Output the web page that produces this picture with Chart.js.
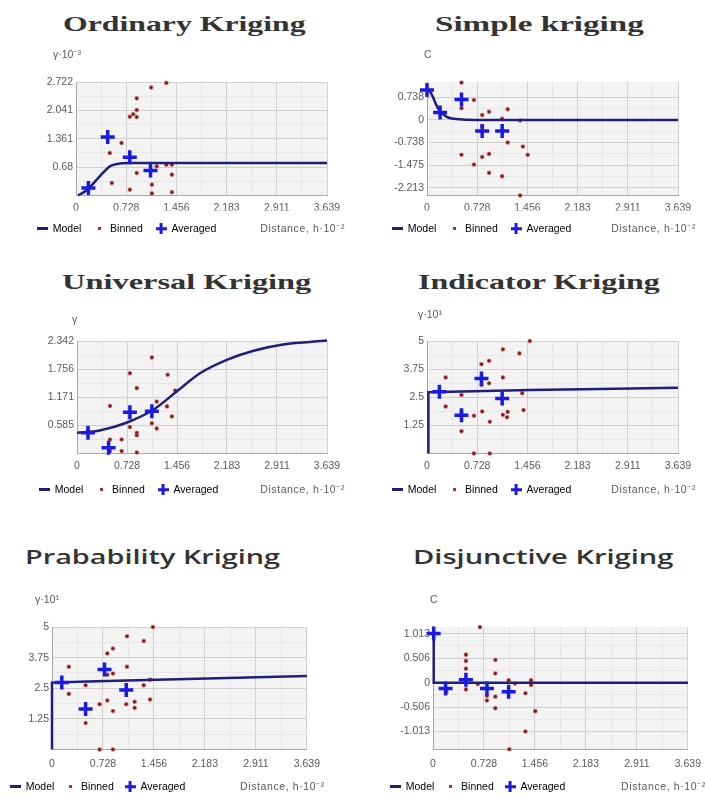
<!DOCTYPE html>
<html>
<head>
<meta charset="utf-8">
<script src="https://cdn.jsdelivr.net/npm/chart.js@4.4.1/dist/chart.umd.min.js"></script>
<style>
  body { margin: 0; background: #fff; width: 705px; height: 796px; position: relative; overflow: hidden; }
  .ttl { position: absolute; white-space: nowrap; color: #333; transform-origin: left top; }
  .serif { font-family: "Liberation Serif", "DejaVu Serif", serif; font-weight: bold; font-size: 21px; }
  .sans { font-family: "Open Sans", "Noto Sans", sans-serif; font-weight: 600; font-size: 20px; }
  .box { position: absolute; }
</style>
</head>
<body>
<script>
// shared x axis (distance, h * 10^-2)
const xTicks = [0, 0.728, 1.456, 2.183, 2.911, 3.639];
const xLabels = ["0", "0.728", "1.456", "2.183", "2.911", "3.639"];

// Ordinary Kriging
const okYTicks = [0, 0.68, 1.361, 2.041, 2.722];
const okYLabels = ["", "0.68", "1.361", "2.041", "2.722"];
const okModelX = [0.03, 0.15, 0.30, 0.40, 0.49, 0.64, 0.80, 3.639];
const okModelY = [0, 0.12, 0.38, 0.56, 0.70, 0.77, 0.78, 0.78];
const okBinnedX = [1.09, 1.31, 0.88, 0.78, 0.83, 0.88, 0.88, 0.66, 0.49, 0.88, 0.52, 0.78, 1.10, 1.10, 1.39, 1.39, 1.31, 1.39, 1.17];
const okBinnedY = [2.59, 2.70, 2.33, 1.89, 1.95, 2.05, 1.88, 1.26, 1.02, 0.54, 0.30, 0.14, 0.26, 0.05, 0.50, 0.08, 0.74, 0.74, 0.70];
const okAvgX = [0.18, 0.46, 0.78, 1.08];
const okAvgY = [0.18, 1.40, 0.92, 0.60];

// Simple kriging
const skYTicks = [-2.213, -1.475, -0.738, 0, 0.738];
const skYLabels = ["-2.213", "-1.475", "-0.738", "0", "0.738"];
const skModelX = [0, 0.06, 0.16, 0.28, 0.47, 0.70, 3.639];
const skModelY = [1.03, 0.87, 0.38, 0.11, 0.02, 0, 0];
const skBinnedX = [0.50, 0.68, 0.50, 0.80, 0.90, 1.17, 1.09, 1.35, 0.80, 1.17, 1.39, 1.46, 0.50, 0.68, 0.80, 0.90, 0.90, 1.09, 1.35];
const skBinnedY = [1.22, 0.65, 0.38, 0.16, 0.27, 0.35, 0.04, -0.02, -0.22, -0.74, -0.87, -1.14, -1.14, -1.46, -1.21, -1.11, -1.73, -1.84, -2.47];
const skAvgX = [0, 0.19, 0.50, 0.80, 1.09];
const skAvgY = [0.98, 0.24, 0.67, -0.36, -0.36];

// Universal Kriging
const ukYTicks = [0, 0.585, 1.171, 1.756, 2.342];
const ukYLabels = ["", "0.585", "1.171", "1.756", "2.342"];
const ukModelX = [0, 0.33, 0.72, 1.11, 1.45, 1.79, 2.18, 2.57, 3.0, 3.639];
const ukModelY = [0.43, 0.48, 0.64, 0.91, 1.29, 1.67, 1.95, 2.14, 2.27, 2.35];
const ukBinnedX = [1.09, 0.77, 1.32, 0.87, 1.43, 0.48, 1.16, 1.31, 1.38, 0.77, 1.09, 1.16, 0.87, 0.87, 0.16, 0.48, 0.65, 0.65, 0.87, 0.48];
const ukBinnedY = [2.0, 1.67, 1.64, 1.36, 1.31, 0.99, 1.08, 0.98, 0.77, 0.55, 0.63, 0.52, 0.43, 0.38, 0.48, 0.29, 0.29, 0.05, 0.02, 0.05];
const ukAvgX = [0.16, 0.46, 0.77, 1.09];
const ukAvgY = [0.43, 0.12, 0.86, 0.88];

// Indicator Kriging
const ikYTicks = [0, 1.25, 2.5, 3.75, 5];
const ikYLabels = ["", "1.25", "2.5", "3.75", "5"];
const ikModelX = [0.02, 0.02, 0.5, 1.5, 2.5, 3.639];
const ikModelY = [0, 2.72, 2.76, 2.82, 2.87, 2.92];
const ikBinnedX = [1.49, 1.10, 1.34, 0.90, 0.79, 0.27, 1.10, 0.90, 0.79, 0.50, 1.38, 0.27, 1.40, 0.80, 1.10, 1.17, 1.16, 0.68, 0.91, 0.50, 0.68, 0.91, 0.50];
const ikBinnedY = [5.0, 4.63, 4.45, 4.12, 3.97, 3.38, 3.38, 3.12, 3.04, 2.60, 2.68, 2.09, 1.93, 1.87, 1.72, 1.85, 1.61, 1.68, 1.41, 0.99, 0, 0, 1.84];
const ikAvgX = [0.18, 0.50, 0.79, 1.09];
const ikAvgY = [2.74, 1.70, 3.33, 2.44];

// Prabability Kriging
const pkYTicks = [0, 1.25, 2.5, 3.75, 5];
const pkYLabels = ["", "1.25", "2.5", "3.75", "5"];
const pkModelX = [0.0, 0.0, 0.5, 1.5, 2.5, 3.639];
const pkModelY = [0, 2.73, 2.78, 2.85, 2.92, 3.0];
const pkBinnedX = [1.44, 1.07, 1.31, 0.87, 0.79, 0.24, 1.07, 0.87, 0.79, 0.48, 1.31, 1.40, 0.24, 1.40, 0.79, 1.06, 1.18, 1.18, 0.68, 0.87, 0.48, 0.68, 0.87];
const pkBinnedY = [5.0, 4.62, 4.43, 4.12, 3.92, 3.38, 3.38, 3.10, 3.05, 2.62, 2.62, 2.85, 2.27, 2.04, 2.0, 1.85, 1.95, 1.70, 1.85, 1.57, 1.08, 0, 0];
const pkAvgX = [0.14, 0.48, 0.75, 1.06];
const pkAvgY = [2.73, 1.65, 3.27, 2.43];

// Disjunctive Kriging
const dkYTicks = [-1.013, -0.506, 0, 0.506, 1.013];
const dkYLabels = ["-1.013", "-0.506", "0", "0.506", "1.013"];
const dkModelX = [0.01, 0.01, 3.639];
const dkModelY = [1.0, 0, 0];
const dkBinnedX = [0.67, 0.47, 0.47, 0.47, 0.89, 0.89, 0.47, 0.19, 0.64, 0.77, 0.77, 0.89, 0.89, 1.08, 1.17, 1.40, 1.32, 1.46, 1.32, 1.09, 1.40];
const dkBinnedY = [1.15, 0.58, 0.45, 0.29, 0.47, 0.19, -0.14, -0.19, -0.03, -0.27, -0.37, -0.29, -0.53, 0.05, -0.02, 0.05, -0.22, -0.59, -1.01, -1.38, -0.05];
const dkAvgX = [0.01, 0.18, 0.47, 0.77, 1.08];
const dkAvgY = [1.02, -0.12, 0.06, -0.12, -0.19];

const zip = (xs, ys) => xs.map((x, i) => ({ x: x, y: ys[i] }));

const panels = [
  { title: "Ordinary Kriging", tcls: "serif", tx0: 63, tx1: 305, ttop: 12,
    left: 24, top: 40, w: 326, h: 204, yW: 52, padTop: 42, padRight: 23, xH: 15, tickPad: 6, legPad: 13,
    unit: "γ·10⁻³", unitDx: -23, unitDy: -27, yMin: 0, yMax: 2.722,
    yTicks: okYTicks, yLabels: okYLabels, smooth: true,
    model: zip(okModelX, okModelY), binned: zip(okBinnedX, okBinnedY), avg: zip(okAvgX, okAvgY) },
  { title: "Simple kriging", tcls: "serif", tx0: 435, tx1: 643, ttop: 12,
    left: 379, top: 40, w: 326, h: 204, yW: 48, padTop: 42, padRight: 27, xH: 15, tickPad: 6, legPad: 13,
    unit: "C", unitDx: -3, unitDy: -27, yMin: -2.47, yMax: 1.24,
    yTicks: skYTicks, yLabels: skYLabels, smooth: true,
    model: zip(skModelX, skModelY), binned: zip(skBinnedX, skBinnedY), avg: zip(skAvgX, skAvgY) },
  { title: "Universal Kriging", tcls: "serif", tx0: 62, tx1: 312, ttop: 270,
    left: 26, top: 298, w: 324, h: 207, yW: 51, padTop: 43, padRight: 23, xH: 18, tickPad: 6, legPad: 13,
    unit: "γ", unitDx: -5, unitDy: -21, yMin: 0, yMax: 2.342,
    yTicks: ukYTicks, yLabels: ukYLabels, smooth: true,
    model: zip(ukModelX, ukModelY), binned: zip(ukBinnedX, ukBinnedY), avg: zip(ukAvgX, ukAvgY) },
  { title: "Indicator Kriging", tcls: "serif", tx0: 418, tx1: 660, ttop: 270,
    left: 379, top: 298, w: 326, h: 207, yW: 48, padTop: 43, padRight: 27, xH: 18, tickPad: 6, legPad: 13,
    unit: "γ·10¹", unitDx: -9, unitDy: -26, yMin: 0, yMax: 5,
    yTicks: ikYTicks, yLabels: ikYLabels, smooth: false,
    model: zip(ikModelX, ikModelY), binned: zip(ikBinnedX, ikBinnedY), avg: zip(ikAvgX, ikAvgY) },
  { title: "Prabability Kriging", tcls: "sans", tx0: 25, tx1: 280, ttop: 543,
    left: -1, top: 580, w: 329, h: 222, yW: 53, padTop: 47, padRight: 21, xH: 21, tickPad: 8, legPad: 11,
    unit: "γ·10¹", unitDx: -17, unitDy: -27, yMin: 0, yMax: 5,
    yTicks: pkYTicks, yLabels: pkYLabels, smooth: false,
    model: zip(pkModelX, pkModelY), binned: zip(pkBinnedX, pkBinnedY), avg: zip(pkAvgX, pkAvgY) },
  { title: "Disjunctive Kriging", tcls: "sans", tx0: 413, tx1: 673, ttop: 543,
    left: 379, top: 580, w: 330, h: 222, yW: 54, padTop: 47, padRight: 21, xH: 21, tickPad: 8, legPad: 11,
    unit: "C", unitDx: -3, unitDy: -27, yMin: -1.384, yMax: 1.152,
    yTicks: dkYTicks, yLabels: dkYLabels, smooth: false,
    model: zip(dkModelX, dkModelY), binned: zip(dkBinnedX, dkBinnedY), avg: zip(dkAvgX, dkAvgY) }
];

const FONT = '"Liberation Sans", Arial, sans-serif';
Chart.defaults.font.family = FONT;
Chart.defaults.font.size = 10.5;
Chart.defaults.color = "#5a5a5a";

const MODEL_COLOR = "#1f1f7a";
const AVG_COLOR = "#1a1ae0";
const BIN_COLOR = "#6b1d1d";

// small canvases used as legend markers
function marker(w, h, draw) {
  const c = document.createElement("canvas");
  c.width = w; c.height = h;
  draw(c.getContext("2d"));
  return c;
}
const lineMark = marker(11, 3, g => { g.fillStyle = MODEL_COLOR; g.fillRect(0, 0, 11, 3); });
const dotMark = marker(3, 3, g => { g.fillStyle = "#b03030"; g.fillRect(0, 0, 3, 3); });
const crossMark = marker(11, 11, g => { g.fillStyle = AVG_COLOR; g.fillRect(4, 0, 3, 11); g.fillRect(0, 4, 11, 3); });

// midpoints between major ticks, used for faint minor grid lines
function withMinor(vals) {
  const out = [];
  vals.forEach((v, i) => {
    out.push({ value: v });
    if (i < vals.length - 1) out.push({ value: (v + vals[i + 1]) / 2, minor: true });
  });
  return out;
}

const plotBg = {
  id: "plotBg",
  beforeDraw(chart) {
    const { ctx, chartArea: a } = chart;
    ctx.save();
    ctx.fillStyle = "#f3f3f3";
    ctx.fillRect(a.left, a.top, a.width, a.height);
    ctx.restore();
  }
};

const axisText = {
  id: "axisText",
  afterDraw(chart, args, opts) {
    const { ctx, chartArea: a } = chart;
    ctx.save();
    ctx.fillStyle = "#5a5a5a";
    ctx.font = "10.5px " + FONT;
    ctx.textBaseline = "middle";
    ctx.textAlign = "left";
    ctx.fillText(opts.unit, a.left + opts.unitDx, a.top + opts.unitDy);
    const hb = chart.legend.legendHitBoxes[0];
    ctx.textAlign = "right";
    ctx.letterSpacing = "0.6px";
    ctx.fillText("Distance, h·10⁻²", a.right + 18, hb.top + hb.height / 2);
    ctx.restore();
  }
};

panels.forEach(p => {
  const t = document.createElement("div");
  t.className = "ttl " + p.tcls;
  t.textContent = p.title;
  t.style.left = p.tx0 + "px";
  t.style.top = p.ttop + "px";
  document.body.appendChild(t);
  t.style.transform = "scaleX(" + ((p.tx1 - p.tx0) / t.offsetWidth).toFixed(3) + ")";

  const box = document.createElement("div");
  box.className = "box";
  box.style.left = p.left + "px";
  box.style.top = p.top + "px";
  const cv = document.createElement("canvas");
  cv.width = p.w;
  cv.height = p.h;
  box.appendChild(cv);
  document.body.appendChild(box);

  new Chart(cv, {
    type: "scatter",
    data: {
      datasets: [
        {
          label: "Averaged",
          data: p.avg,
          pointStyle: "cross",
          pointRadius: 7,
          pointBorderWidth: 3.5,
          borderColor: AVG_COLOR,
          backgroundColor: AVG_COLOR,
          order: 0,
          clip: false
        },
        {
          label: "Model",
          data: p.model,
          showLine: true,
          pointRadius: 0,
          borderColor: MODEL_COLOR,
          borderWidth: 2.5,
          cubicInterpolationMode: p.smooth ? "monotone" : "default",
          order: 1,
          clip: false
        },
        {
          label: "Binned",
          data: p.binned,
          pointRadius: 1.8,
          backgroundColor: BIN_COLOR,
          borderColor: "rgba(215,70,70,0.55)",
          borderWidth: 1.2,
          order: 2,
          clip: false
        }
      ]
    },
    options: {
      responsive: false,
      animation: false,
      layout: { padding: { top: p.padTop, right: p.padRight, left: 0, bottom: 0 } },
      scales: {
        x: {
          type: "linear",
          min: 0,
          max: 3.639,
          afterBuildTicks: s => { s.ticks = withMinor(xTicks); },
          afterFit: s => { s.height = p.xH; },
          ticks: {
            autoSkip: false,
            maxRotation: 0,
            padding: p.tickPad,
            callback: v => { const i = xTicks.indexOf(v); return i >= 0 ? xLabels[i] : ""; }
          },
          grid: {
            drawTicks: false,
            color: c => (c.tick && c.tick.minor ? "#e6e6e6" : "#d0d0d0")
          },
          border: { color: "#a8a8a8" }
        },
        y: {
          type: "linear",
          min: p.yMin,
          max: p.yMax,
          afterBuildTicks: s => { s.ticks = withMinor(p.yTicks); },
          afterFit: s => { s.width = p.yW; },
          ticks: {
            autoSkip: false,
            padding: 3,
            callback: v => { const i = p.yTicks.indexOf(v); return i >= 0 ? p.yLabels[i] : ""; }
          },
          grid: {
            drawTicks: false,
            color: c => (c.tick && c.tick.minor ? "#e6e6e6" : "#d0d0d0")
          },
          border: { color: "#a8a8a8" }
        }
      },
      plugins: {
        legend: {
          position: "bottom",
          align: "start",
          labels: {
            usePointStyle: true,
            padding: p.legPad,
            color: "#5a5a5a",
            font: { size: 10.5 },
            generateLabels: () => [
              { text: "Model", pointStyle: lineMark, fillStyle: MODEL_COLOR, strokeStyle: MODEL_COLOR, lineWidth: 0, hidden: false, datasetIndex: 1 },
              { text: "Binned", pointStyle: dotMark, fillStyle: BIN_COLOR, strokeStyle: BIN_COLOR, lineWidth: 0, hidden: false, datasetIndex: 2 },
              { text: "Averaged", pointStyle: crossMark, fillStyle: AVG_COLOR, strokeStyle: AVG_COLOR, lineWidth: 0, hidden: false, datasetIndex: 0 }
            ]
          }
        },
        tooltip: { enabled: false },
        axisText: { unit: p.unit, unitDx: p.unitDx, unitDy: p.unitDy }
      }
    },
    plugins: [plotBg, axisText]
  });
});
</script>
</body>
</html>
